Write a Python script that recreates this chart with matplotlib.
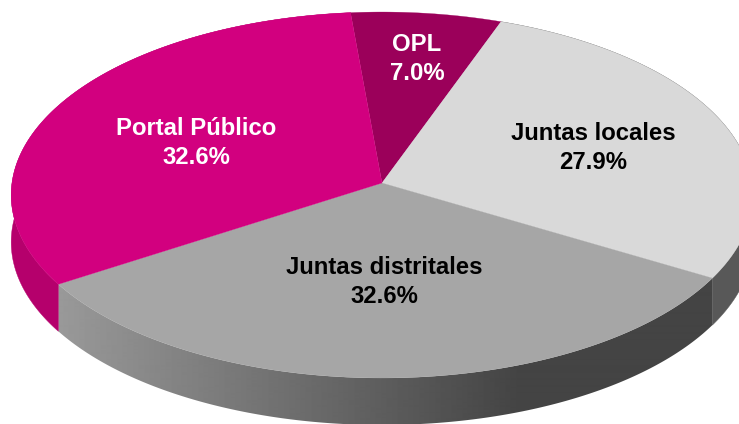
import numpy as np
import matplotlib
matplotlib.use("Agg")
import matplotlib.pyplot as plt
from matplotlib.patches import Polygon


# =========================================================
# DATA
# =========================================================

categories = ["OPL", "Juntas locales", "Juntas distritales", "Portal Público"]

values = [7.0, 27.9, 32.6, 32.6]


# =========================================================
# STYLE
# =========================================================

top_colors = ["#9B005A", "#D9D9D9", "#A6A6A6", "#D2007F"]
text_colors = ["white", "black", "black", "white"]
wall_colors = [None, "#585858", None, "#B5006C"]
label_xy = [(417, 59), (593, 148), (384, 282), (196, 143)]

# perspective of the disc, in pixels
CX, CY = 382, 183
RX, RY = 370, 182.2
K = 0.0656
DEPTH = 47
START = -5.2


def project(theta_deg):
    t = np.radians(theta_deg)
    x = np.sin(t)
    y = np.cos(t)
    w = 1 + K * y
    return CX + RX * x / w, CY - RY * y / w


fig = plt.figure(figsize=(7.39, 4.24), dpi=100)
ax = fig.add_axes([0, 0, 1, 1])

fractions = np.array(values) / sum(values)
edges = START + np.concatenate([[0], np.cumsum(fractions)]) * 360

# side walls first, the top faces cover what is behind
for i in range(1, len(values)):
    th = np.linspace(edges[i], edges[i + 1], 200)
    xs, ys = project(th)
    wall_xy = np.column_stack([
        np.concatenate([xs, xs[::-1]]),
        np.concatenate([ys, ys[::-1] + DEPTH])
    ])
    if wall_colors[i]:
        ax.add_patch(Polygon(wall_xy, closed=True, color=wall_colors[i], lw=0.3, zorder=2))
    else:
        # front wall has a horizontal grey shading
        px = np.arange(0, 739)
        grey = np.interp(px, [60, 520], [0x99, 0x44]).reshape(1, -1)
        img = ax.imshow(
            grey,
            cmap="gray",
            vmin=0,
            vmax=255,
            extent=[0, 739, 424, 0],
            aspect="auto",
            interpolation="bilinear",
            zorder=2
        )
        clip = Polygon(wall_xy, closed=True, transform=ax.transData)
        img.set_clip_path(clip)

ax.set_xlim(0, 739)
ax.set_ylim(424, 0)
ax.axis("off")

# top faces
for i in range(len(values)):
    th = np.linspace(edges[i], edges[i + 1], 200)
    xs, ys = project(th)
    ax.fill(
        np.concatenate([[CX], xs]),
        np.concatenate([[CY], ys]),
        color=top_colors[i],
        lw=0.2,
        zorder=3
    )

# labels
for i in range(len(values)):
    ax.text(
        label_xy[i][0],
        label_xy[i][1],
        f"{categories[i]}\n{values[i]:.1f}%",
        ha="center",
        va="center",
        color=text_colors[i],
        fontsize=17.2,
        fontweight="bold",
        family="Liberation Sans",
        linespacing=1.3,
        zorder=4
    )

fig.savefig("out.png", dpi=100)
